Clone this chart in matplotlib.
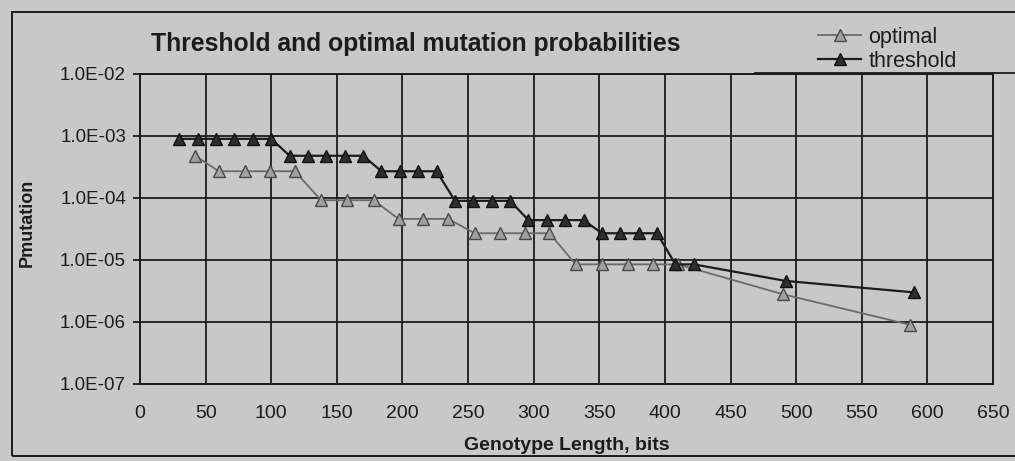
import numpy as np
import matplotlib
matplotlib.use("Agg")
import matplotlib.pyplot as plt
from matplotlib.patches import Rectangle
from matplotlib.lines import Line2D

# data
threshold_len = [30, 44, 58, 72, 86, 100,
                 114, 128, 142, 156, 170,
                 184, 198, 212, 226,
                 240, 254, 268, 282,
                 296, 310, 324, 338,
                 352, 366, 380, 394,
                 408, 422, 492, 590]
threshold_p = [9.0e-4, 9.0e-4, 9.0e-4, 9.0e-4, 9.0e-4, 9.0e-4,
               4.8e-4, 4.8e-4, 4.8e-4, 4.8e-4, 4.8e-4,
               2.7e-4, 2.7e-4, 2.7e-4, 2.7e-4,
               9.0e-5, 9.0e-5, 9.0e-5, 9.0e-5,
               4.4e-5, 4.4e-5, 4.4e-5, 4.4e-5,
               2.7e-5, 2.7e-5, 2.7e-5, 2.7e-5,
               8.5e-6, 8.5e-6, 4.6e-6, 3.0e-6]

optimal_len = [42, 60, 80, 99, 118,
               138, 158, 178,
               197, 216, 235,
               255, 274, 293, 312,
               332, 352, 372, 391, 410,
               490, 587]
optimal_p = [4.8e-4, 2.7e-4, 2.7e-4, 2.7e-4, 2.7e-4,
             9.2e-5, 9.2e-5, 9.2e-5,
             4.6e-5, 4.6e-5, 4.6e-5,
             2.7e-5, 2.7e-5, 2.7e-5, 2.7e-5,
             8.5e-6, 8.5e-6, 8.5e-6, 8.5e-6, 8.5e-6,
             2.8e-6, 9.0e-7]

x_ticks = np.arange(0, 651, 50)
y_ticks = [1e-7, 1e-6, 1e-5, 1e-4, 1e-3, 1e-2]

bg = "#c8c8c8"
ink = "#1c1c1c"

plt.rcParams["font.family"] = ["Liberation Sans", "DejaVu Sans"]

fig = plt.figure(figsize=(10.15, 4.61), dpi=100, facecolor=bg)
ax = fig.add_axes([140 / 1015, 1 - 384 / 461, 853 / 1015, 310 / 461])
ax.set_facecolor(bg)

ax.plot(optimal_len, optimal_p, color="#6a6a6a", lw=1.3, marker="^", ms=8,
        mfc="#a0a0a0", mec="#4a4a4a", mew=1.0, label="optimal")
ax.plot(threshold_len, threshold_p, color=ink, lw=1.6, marker="^", ms=8,
        mfc="#2e2e2e", mec="#111111", mew=1.0, label="threshold")

ax.set_yscale("log")
ax.set_ylim(1e-7, 1e-2)
ax.set_xlim(0, 650)
ax.set_xticks(x_ticks)
ax.set_yticks(y_ticks)
ax.set_yticklabels(["%.1E" % v for v in y_ticks])
ax.minorticks_off()
ax.grid(True, color=ink, lw=1.3)
ax.set_axisbelow(True)
for s in ax.spines.values():
    s.set_color(ink)
    s.set_linewidth(1.4)

ax.tick_params(axis="x", length=0, pad=15, labelsize=14, colors=ink)
ax.tick_params(axis="y", length=5, width=1.3, pad=5, labelsize=13.5, colors=ink)

ax.set_xlabel("Genotype Length, bits", fontsize=14, fontweight="bold",
              color=ink, labelpad=11)
fig.text(27 / 1015, 1 - 223 / 461, "Pmutation", rotation=90, fontsize=13,
         fontweight="bold", color=ink, ha="center", va="center")
fig.text(416 / 1015, 1 - 44 / 461, "Threshold and optimal mutation probabilities",
         fontsize=17.8, fontweight="bold", color=ink, ha="center", va="center")

handles = [Line2D([], [], color="#6a6a6a", lw=1.3, marker="^", ms=8,
                  mfc="#a0a0a0", mec="#4a4a4a"),
           Line2D([], [], color=ink, lw=1.6, marker="^", ms=8,
                  mfc="#2e2e2e", mec="#111111")]
fig.legend(handles, ["optimal", "threshold"], loc="upper left",
           bbox_to_anchor=(818 / 1015, 1 - 27 / 461), frameon=False,
           fontsize=15.5, handlelength=2.0, handletextpad=0.35,
           labelspacing=0.12, borderpad=0, borderaxespad=0, labelcolor=ink)

# outer chart frame and line under the legend
fig.patches.append(Rectangle((12 / 1015, 1 - 456 / 461), 1.0, 444 / 461,
                             transform=fig.transFigure, fill=False,
                             ec=ink, lw=1.4))
fig.lines.append(Line2D([755 / 1015, 1.0], [1 - 73 / 461, 1 - 73 / 461],
                        transform=fig.transFigure, color=ink, lw=1.3))

fig.savefig("out.png", dpi=100, facecolor=bg)
